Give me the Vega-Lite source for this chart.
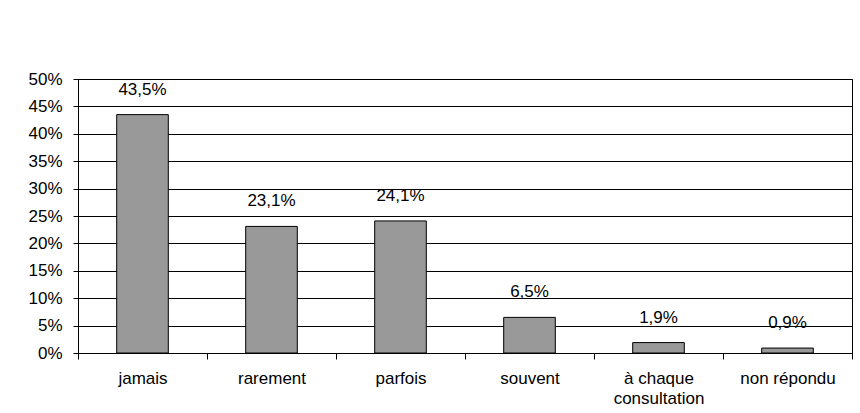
{
  "$schema": "https://vega.github.io/schema/vega-lite/v6.json",
  "width": 774,
  "height": 274,
  "autosize": {"type": "none"},
  "padding": {"left": 78, "top": 79, "right": 8, "bottom": 60},
  "background": "white",
  "data": {
    "values": [
      {"cat": "jamais", "v": 43.5, "label": "43,5%"},
      {"cat": "rarement", "v": 23.1, "label": "23,1%"},
      {"cat": "parfois", "v": 24.1, "label": "24,1%"},
      {"cat": "souvent", "v": 6.5, "label": "6,5%"},
      {"cat": "à chaque consultation", "v": 1.9, "label": "1,9%"},
      {"cat": "non répondu", "v": 0.9, "label": "0,9%"}
    ]
  },
  "encoding": {
    "x": {
      "field": "cat",
      "type": "nominal",
      "sort": null,
      "scale": {"paddingInner": 0, "paddingOuter": 0},
      "axis": {
        "title": null,
        "labelAngle": 0,
        "tickBand": "extent",
        "tickExtra": true,
        "ticks": true,
        "tickSize": 6,
        "tickWidth": 1,
        "tickColor": "black",
        "domainColor": "black",
        "labelPadding": 11,
        "labelFontSize": 17,
        "labelFont": "Liberation Sans",
        "labelColor": "black",
        "labelLineHeight": 20,
        "labelOverlap": false,
        "labelExpr": "datum.label == 'à chaque consultation' ? ['à chaque', 'consultation'] : datum.label",
        "grid": false
      }
    },
    "y": {
      "field": "v",
      "type": "quantitative",
      "scale": {"domain": [0, 50], "nice": false},
      "axis": {
        "title": null,
        "values": [0, 5, 10, 15, 20, 25, 30, 35, 40, 45, 50],
        "labelExpr": "datum.value + '%'",
        "labelOverlap": false,
        "labelFlush": false,
        "grid": true,
        "gridColor": "black",
        "gridWidth": 1,
        "gridOpacity": 1,
        "domainColor": "black",
        "tickColor": "black",
        "tickSize": 5,
        "labelPadding": 11,
        "labelFontSize": 17,
        "labelFont": "Liberation Sans",
        "labelColor": "black"
      }
    }
  },
  "layer": [
    {
      "mark": {"type": "bar", "fill": "#999999", "stroke": "black", "strokeWidth": 1, "width": {"band": 0.4}}
    },
    {
      "mark": {"type": "text", "dy": -25, "baseline": "middle", "fontSize": 17, "font": "Liberation Sans", "color": "black"},
      "encoding": {
        "text": {"field": "label"}
      }
    }
  ],
  "config": {
    "view": {"stroke": "black", "strokeWidth": 1}
  }
}
